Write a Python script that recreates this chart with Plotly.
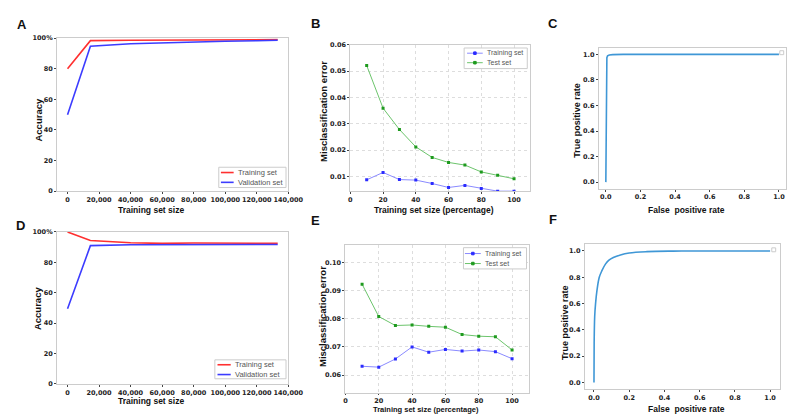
import plotly.graph_objects as go

W, H = 800, 414

# ---- data ----
size_ticks = [0, 20000, 40000, 60000, 80000, 100000, 120000, 140000]
size_labels = ["0", "20,000", "40,000", "60,000", "80,000", "100,000", "120,000", "140,000"]
train_size = [0, 14500, 40000, 60000, 80000, 100000, 120000, 133300]

acc_train_a = [80, 98.4, 98.6, 98.7, 98.8, 98.9, 99.0, 99.1]
acc_valid_a = [50, 94.8, 96.4, 97.0, 97.6, 98.0, 98.3, 98.6]

acc_train_d = [100, 94.4, 92.9, 92.5, 92.7, 92.7, 92.5, 92.5]
acc_valid_d = [49.5, 91.0, 91.6, 91.6, 92.0, 92.0, 92.0, 91.8]

acc_ticks = [0, 20, 40, 60, 80, 100]
acc_labels = ["0", "20", "40", "60", "80", "100%"]

pct = [10, 20, 30, 40, 50, 60, 70, 80, 90, 100]
err_train_b = [0.0087, 0.0115, 0.0088, 0.0086, 0.0073, 0.0058, 0.0066, 0.0054, 0.0044, 0.0044]
err_test_b = [0.0521, 0.0359, 0.0278, 0.0212, 0.0172, 0.0153, 0.0143, 0.0117, 0.0104, 0.0091]

err_train_e = [0.0631, 0.0628, 0.0657, 0.0700, 0.0681, 0.0691, 0.0685, 0.0689, 0.0683, 0.0658]
err_test_e = [0.0923, 0.0808, 0.0776, 0.0778, 0.0773, 0.0770, 0.0744, 0.0738, 0.0736, 0.0689]

fpr_c = [0, 0.002, 0.004, 0.006, 0.01, 0.02, 0.04, 0.1, 0.3, 1.0]
tpr_c = [0, 0.85, 0.95, 0.975, 0.988, 0.995, 0.998, 1.0, 1.0, 1.0]

fpr_f = [0, 0.001, 0.004, 0.009, 0.017, 0.03, 0.045, 0.065, 0.085, 0.11, 0.15, 0.2, 0.3, 0.45, 0.6, 1.0]
tpr_f = [0, 0.3, 0.5, 0.6, 0.7, 0.8, 0.85, 0.9, 0.93, 0.95, 0.97, 0.985, 0.995, 0.999, 1.0, 1.0]


def dom(x0, x1, y0, y1):
    return [x0 / W, x1 / W], [1 - y1 / H, 1 - y0 / H]


def px(x, y):
    return x / W, 1 - y / H


RED = "#ff3030"
BLUE = "#3c3cff"
ROC = "#3f97d6"
LBLUE, MBLUE = "#8a8aff", "#2b2bff"
LGREEN, MGREEN = "#6cc46c", "#1e9a1e"

fig = go.Figure()

# A / D accuracy curves
for xa, ya, tr, va in [("x", "y", acc_train_a, acc_valid_a),
                       ("x4", "y4", acc_train_d, acc_valid_d)]:
    fig.add_trace(go.Scatter(x=train_size, y=tr, mode="lines", name="Training set",
                             line=dict(color=RED, width=1.6), xaxis=xa, yaxis=ya))
    fig.add_trace(go.Scatter(x=train_size, y=va, mode="lines", name="Validation set",
                             line=dict(color=BLUE, width=1.6), xaxis=xa, yaxis=ya))

# B / E misclassification error
for xa, ya, tr, te in [("x2", "y2", err_train_b, err_test_b),
                       ("x5", "y5", err_train_e, err_test_e)]:
    fig.add_trace(go.Scatter(x=pct, y=tr, mode="lines+markers", name="Training set",
                             line=dict(color=LBLUE, width=1),
                             marker=dict(color=MBLUE, size=3, symbol="square"),
                             xaxis=xa, yaxis=ya))
    fig.add_trace(go.Scatter(x=pct, y=te, mode="lines+markers", name="Test set",
                             line=dict(color=LGREEN, width=1),
                             marker=dict(color=MGREEN, size=3, symbol="square"),
                             xaxis=xa, yaxis=ya))

# C / F ROC curves
fig.add_trace(go.Scatter(x=fpr_c, y=tpr_c, mode="lines", line=dict(color=ROC, width=1.6),
                         xaxis="x3", yaxis="y3"))
fig.add_trace(go.Scatter(x=fpr_f, y=tpr_f, mode="lines", line=dict(color=ROC, width=1.6, shape="spline"),
                         xaxis="x6", yaxis="y6"))

tickfont = dict(family="DejaVu Sans", size=6.5, color="#222", weight="bold")
base = dict(showline=True, mirror=True, linecolor="#cccccc", linewidth=1, ticks="outside",
            ticklen=2, tickcolor="#444", tickfont=tickfont, zeroline=False, showgrid=False,
            tickangle=0)
grid = dict(showgrid=True, gridcolor="#dddddd", griddash="dot", gridwidth=1)

dA = dom(48, 284.3, 26.7, 182.7)
dD = dom(48, 284.3, 224.3, 379.3)
dB = dom(347.7, 531.7, 33.3, 182.7)
dE = dom(342.7, 530, 238, 388.5)
dC = dom(601.7, 792.7, 36.7, 180)
dF = dom(587.3, 786.7, 237, 384.7)

layout = dict(
    xaxis=dict(base, domain=dA[0], anchor="y", range=[-6700, 140000],
               tickvals=size_ticks, ticktext=size_labels),
    yaxis=dict(base, domain=dA[1], anchor="x", range=[0, 100],
               tickvals=acc_ticks, ticktext=acc_labels),
    xaxis4=dict(base, domain=dD[0], anchor="y4", range=[-6700, 140000],
                tickvals=size_ticks, ticktext=size_labels),
    yaxis4=dict(base, domain=dD[1], anchor="x4", range=[0, 100],
                tickvals=acc_ticks, ticktext=acc_labels),
    xaxis2=dict(base, **grid, domain=dB[0], anchor="y2", range=[0, 110], tickvals=[0, 20, 40, 60, 80, 100]),
    yaxis2=dict(base, **grid, domain=dB[1], anchor="x2", range=[0.0044, 0.06],
                tickvals=[0.01, 0.02, 0.03, 0.04, 0.05, 0.06], tickformat=".2f"),
    xaxis5=dict(base, **grid, domain=dE[0], anchor="y5", range=[0, 110], tickvals=[0, 20, 40, 60, 80, 100]),
    yaxis5=dict(base, **grid, domain=dE[1], anchor="x5", range=[0.0536, 0.1061],
                tickvals=[0.06, 0.07, 0.08, 0.09, 0.10], tickformat=".2f"),
    xaxis3=dict(base, domain=dC[0], anchor="y3", range=[-0.04, 1.04],
                tickvals=[0, 0.2, 0.4, 0.6, 0.8, 1.0], tickformat=".1f"),
    yaxis3=dict(base, domain=dC[1], anchor="x3", range=[-0.05, 1.05],
                tickvals=[0, 0.2, 0.4, 0.6, 0.8, 1.0], tickformat=".1f"),
    xaxis6=dict(base, domain=dF[0], anchor="y6", range=[-0.052, 1.056],
                tickvals=[0, 0.2, 0.4, 0.6, 0.8, 1.0], tickformat=".1f"),
    yaxis6=dict(base, domain=dF[1], anchor="x6", range=[-0.052, 1.05],
                tickvals=[0, 0.2, 0.4, 0.6, 0.8, 1.0], tickformat=".1f"),
)
layout["xaxis5"]["ticklen"] = 1

ann = []
shapes = []


def label(text, x, y, size, angle=0, color="#111", bold=True, xanchor="center", family="Liberation Sans"):
    ax, ay = px(x, y)
    ann.append(dict(text=text, x=ax, y=ay, xref="paper", yref="paper", showarrow=False,
                    xanchor=xanchor, yanchor="middle", textangle=angle, borderpad=0,
                    font=dict(family=family, size=size, color=color,
                              weight="bold" if bold else "normal")))


def rect(x0, y0, x1, y1, line="#cccccc", fill="white"):
    a0, b0 = px(x0, y0)
    a1, b1 = px(x1, y1)
    shapes.append(dict(type="rect", xref="paper", yref="paper", x0=a0, x1=a1, y0=b1, y1=b0,
                       line=dict(color=line, width=1), fillcolor=fill))


def seg(x0, x1, y, color, width):
    a0, b = px(x0, y)
    a1, _ = px(x1, y)
    shapes.append(dict(type="line", xref="paper", yref="paper", x0=a0, x1=a1, y0=b, y1=b,
                       line=dict(color=color, width=width)))


def legend_box(box, entries, line_x, text_x, marker=False, size=7.5):
    rect(*box)
    for name, y, lc, mc in entries:
        seg(line_x[0], line_x[1], y, lc, 1.6 if not marker else 1)
        if marker:
            m = (line_x[0] + line_x[1]) / 2
            rect(m - 1.3, y - 1.3, m + 1.3, y + 1.3, line=mc, fill=mc)
        label(name, text_x, y, size, color="#555", bold=False, xanchor="left")


legend_box((213.3, 158.3, 282, 179), [("Training set", 163.7, RED, None),
                                      ("Validation set", 173.7, BLUE, None)], (215.5, 228.5), 232)
legend_box((209.3, 354.7, 282, 374), [("Training set", 359.7, RED, None),
                                      ("Validation set", 369.7, BLUE, None)], (212, 225.5), 229)
legend_box((464, 36.7, 528.5, 57.7), [("Training set", 42, LBLUE, MBLUE),
                                      ("Test set", 51.7, LGREEN, MGREEN)], (467, 483), 486,
           marker=True, size=7)
legend_box((463.3, 240.3, 527.7, 262), [("Training set", 246.3, LBLUE, MBLUE),
                                        ("Test set", 256.5, LGREEN, MGREEN)], (464.8, 481), 484,
           marker=True, size=7)

for t, x, y in [("A", 12, 13), ("B", 311.7, 12), ("C", 555, 12),
                ("D", 11, 218), ("E", 311.7, 213), ("F", 555, 212)]:
    label(t, x, y, 13)

label("Training set size", 144, 201.7, 8.5)
label("Training set size", 144, 396.5, 8.5)
label("Accuracy", 29.3, 110, 9.5, -90)
label("Accuracy", 27.5, 302, 9.5, -90)
label("Training set size (percentage)", 433.3, 201.7, 8.5)
label("Training set size (percentage)", 425, 405, 7.5)
label("Misclassification error", 321, 101.7, 9.5, -90)
label("Misclassification error", 319.5, 310.3, 9.5, -90)
label("True positive rate", 579.3, 110, 9, -90)
label("True positive rate", 567.3, 317, 9, -90)
label("False  positive rate", 690.7, 201.7, 8.5)
label("False  positive rate", 690.7, 405, 8.5)

# empty legend boxes in the ROC panels
rect(786.5, 39.5, 790.5, 43.5)
rect(778.3, 240.5, 782.3, 244.5)

fig.update_layout(**layout)
fig.update_layout(width=W, height=H, margin=dict(l=0, r=0, t=0, b=0), autosize=False,
                  paper_bgcolor="white", plot_bgcolor="white", annotations=ann, shapes=shapes,
                  showlegend=False, font=dict(family="DejaVu Sans"))

fig.write_html("out.html")
